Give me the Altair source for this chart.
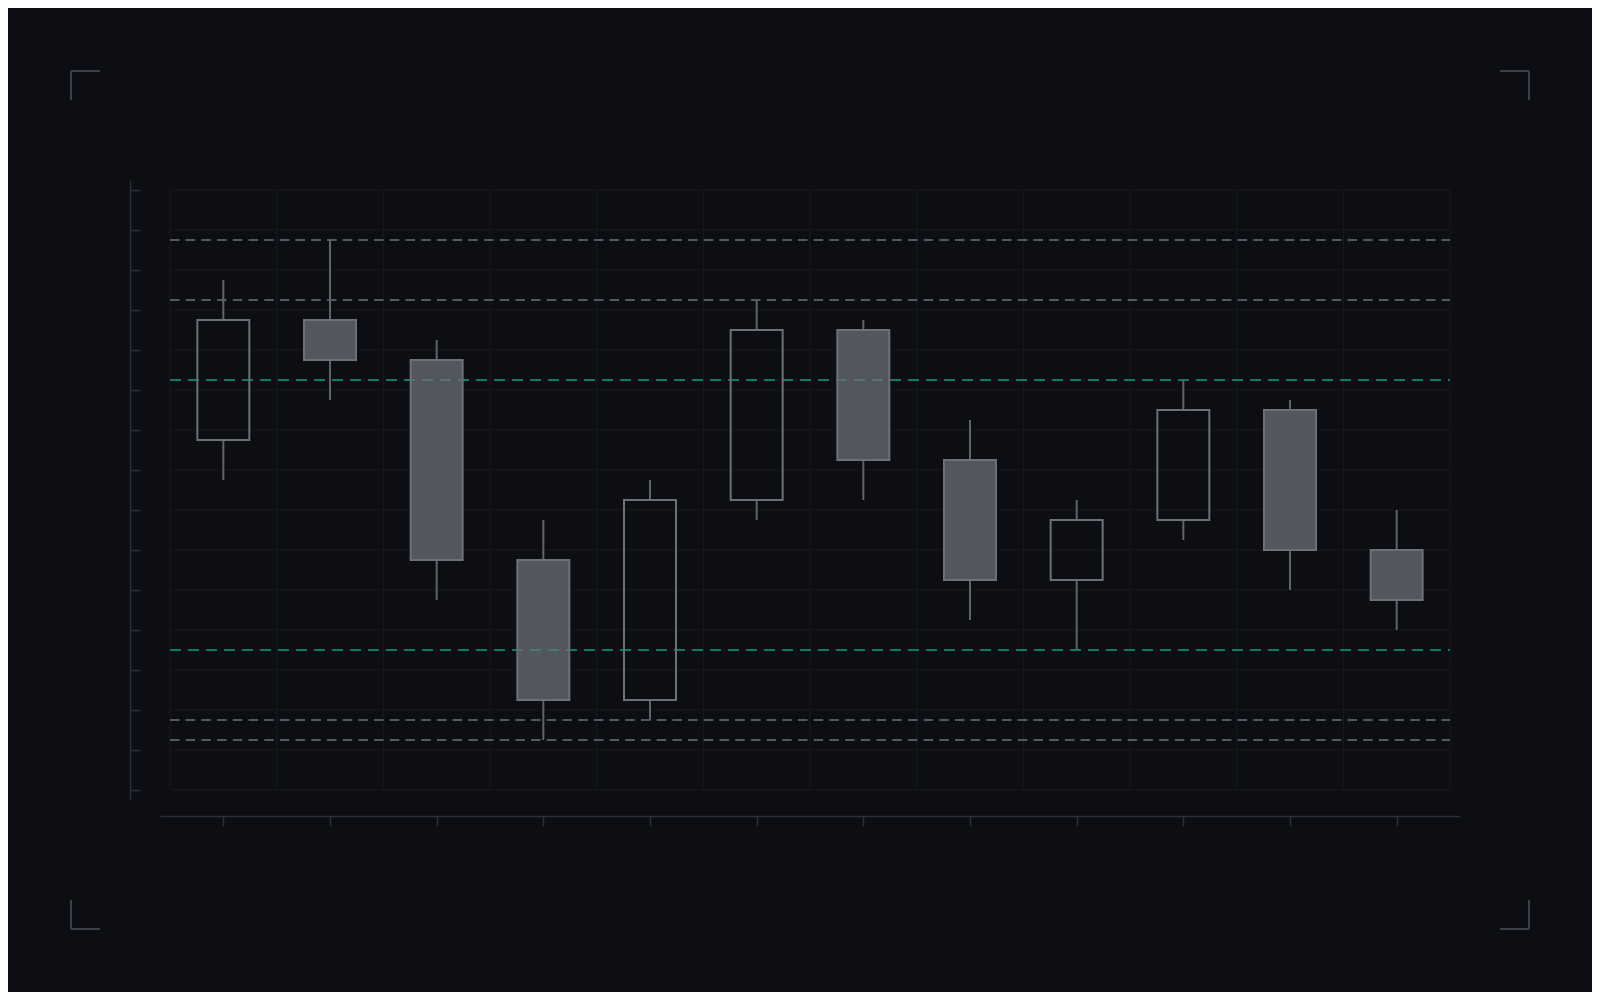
import altair as alt
import pandas as pd

# ---- data ----
candle_idx = list(range(12))
opens  = [135, 147, 143, 123, 109, 129, 146, 133, 121, 127, 138, 124]
closes = [147, 143, 123, 109, 129, 146, 133, 121, 127, 138, 124, 119]
highs  = [151, 155, 145, 127, 131, 149, 147, 137, 129, 141, 139, 128]
lows   = [131, 139, 119, 105, 107, 127, 129, 117, 114, 125, 120, 116]

grey_levels = [155, 149, 107, 105]
teal_levels = [141, 114]

y_ticks = list(range(100, 161, 4))
x_bounds = [i - 0.5 for i in range(13)]

BG = "#0c0e13"
GRID = "#16191f"
AXIS = "#2b2f37"
WICK = "#606369"
BODY_STROKE = "#6d7077"
BODY_FILL = "#6e737b"
GREY_DASH = "#55585e"
TEAL = "#0d7a63"

df = pd.DataFrame({"i": candle_idx, "open": opens, "close": closes,
                   "high": highs, "low": lows})
df["top"] = df[["open", "close"]].max(axis=1)
df["bot"] = df[["open", "close"]].min(axis=1)
df["fill"] = [BODY_FILL if c < o else "rgba(0,0,0,0)" for o, c in zip(opens, closes)]

XD = [-0.59375, 11.59375]
YD = [99, 161]
xs = alt.Scale(domain=XD, nice=False, zero=False, padding=0)
ys = alt.Scale(domain=YD, nice=False, zero=False, padding=0)

# vertical grid lines (band boundaries)
vgrid = alt.Chart(pd.DataFrame({"b": x_bounds})).mark_rule(
    color=GRID, strokeWidth=1.2
).encode(
    x=alt.X("b:Q", scale=xs, axis=alt.Axis(values=candle_idx, orient="bottom", offset=16,
                                           labels=False, grid=False, title=None,
                                           tickSize=10, domain=True)),
    y=alt.datum(100, scale=ys),
    y2=alt.datum(160),
)

# horizontal grid lines
hgrid = alt.Chart(pd.DataFrame({"v": y_ticks})).mark_rule(
    color=GRID, strokeWidth=1.2
).encode(
    y=alt.Y("v:Q", scale=ys, axis=alt.Axis(values=y_ticks, orient="right", offset=-1330,
                                           labels=False, grid=False, title=None,
                                           tickSize=10, domain=True)),
    x=alt.datum(-0.5, scale=xs),
    x2=alt.datum(11.5),
)

grey = alt.Chart(pd.DataFrame({"v": grey_levels})).mark_rule(
    color=GREY_DASH, strokeWidth=2, strokeDash=[9.5, 6.2]
).encode(y=alt.Y("v:Q", scale=ys), x=alt.datum(-0.5, scale=xs), x2=alt.datum(11.5))

teal = alt.Chart(pd.DataFrame({"v": teal_levels})).mark_rule(
    color=TEAL, strokeWidth=2, strokeDash=[11, 7]
).encode(y=alt.Y("v:Q", scale=ys), x=alt.datum(-0.5, scale=xs), x2=alt.datum(11.5))

upper_wicks = alt.Chart(df).mark_rule(color=WICK, strokeWidth=2).encode(
    x=alt.X("i:Q", scale=xs), y=alt.Y("top:Q", scale=ys), y2="high:Q"
)
lower_wicks = alt.Chart(df).mark_rule(color=WICK, strokeWidth=2).encode(
    x=alt.X("i:Q", scale=xs), y=alt.Y("low:Q", scale=ys), y2="bot:Q"
)

bodies = alt.Chart(df).mark_bar(
    size=52, stroke=BODY_STROKE, strokeWidth=2, fillOpacity=0.72
).encode(
    x=alt.X("i:Q", scale=xs), y=alt.Y("open:Q", scale=ys), y2="close:Q",
    fill=alt.Fill("fill:N", scale=None),
)

# decorative corner brackets (pixel positions relative to the view)
one = alt.Data(values=[{}])
def seg(x1, y1, x2, y2):
    return alt.Chart(one).mark_rule(color="#3b4049", strokeWidth=2).encode(
        x=alt.value(x1), y=alt.value(y1), x2=alt.value(x2), y2=alt.value(y2))

corners = [
    seg(-89, -109, -60, -109), seg(-89, -109, -89, -80),
    seg(1340, -109, 1369, -109), seg(1369, -109, 1369, -80),
    seg(-89, 749, -60, 749), seg(-89, 720, -89, 749),
    seg(1340, 749, 1369, 749), seg(1369, 720, 1369, 749),
]

chart = alt.layer(vgrid, hgrid, grey, teal, upper_wicks, lower_wicks, bodies, *corners).properties(
    width=1300, height=620,
    background=BG,
    autosize=alt.AutoSizeParams(type="none"),
    padding={"left": 152, "top": 172, "right": 132, "bottom": 192},
).configure_view(stroke=None).configure_axis(
    domainColor=AXIS, tickColor=AXIS, domainWidth=1.5, tickWidth=1.5,
)

chart.save("out.html", embed_options={"renderer": "svg", "actions": False})
